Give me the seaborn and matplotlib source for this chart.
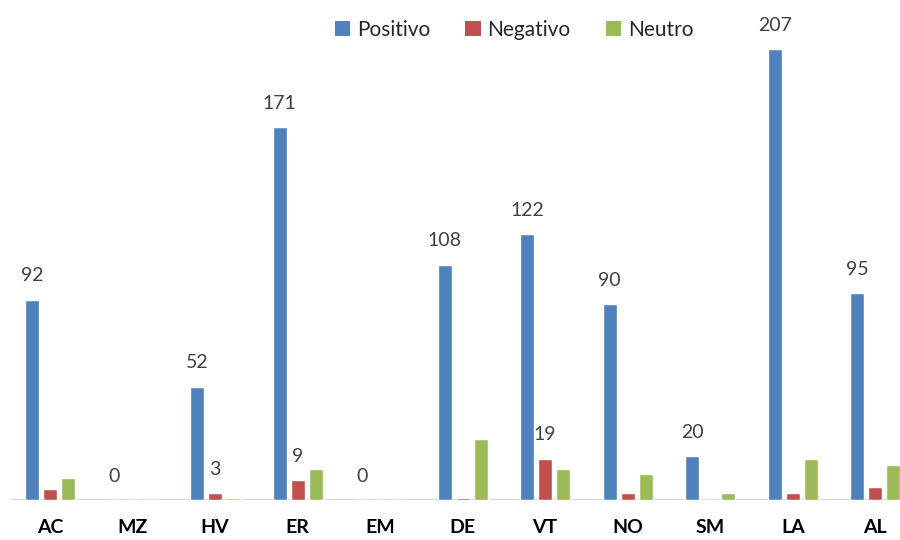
import matplotlib
matplotlib.use("Agg")
import matplotlib.pyplot as plt
import seaborn as sns
import pandas as pd
from matplotlib.patches import Patch

categorias = ["AC", "MZ", "HV", "ER", "EM", "DE", "VT", "NO", "SM", "LA", "AL"]
positivo = [92, 0, 52, 171, 0, 108, 122, 90, 20, 207, 95]
negativo = [5, 0, 3, 9, 0, 1, 19, 3, 0, 3, 6]
neutro = [10, 0, 1, 14, 0, 28, 14, 12, 3, 19, 16]
series = ["Positivo", "Negativo", "Neutro"]
cores = ["#4F81BD", "#C0504D", "#9BBB59"]
# only these negative values carry a label
rotulos_negativo = ["", "", "3", "9", "", "", "19", "", "", "", ""]

df = pd.DataFrame({
    "cat": categorias * 3,
    "valor": positivo + negativo + neutro,
    "serie": [s for s in series for _ in categorias],
})

sns.set_theme(style="white")
plt.rcParams["font.family"] = ["Lato", "DejaVu Sans"]

fig = plt.figure(figsize=(9, 5.4), dpi=100)
ax = fig.add_axes([10 / 900, 40 / 540, 890 / 900, 500 / 540])

sns.barplot(data=df, x="cat", y="valor", hue="serie", order=categorias,
            hue_order=series, palette=cores, width=0.655, gap=0.22,
            saturation=1, ax=ax, legend=False, errorbar=None)

ax.set_xlim(-0.485, 10.3)
ax.set_ylim(0, 229.5)
for s in ax.spines.values():
    s.set_visible(False)
ax.axhline(0, color="#D9D9D9", lw=1.6, zorder=0)
ax.set_yticks([])
ax.set_xlabel("")
ax.set_ylabel("")
ax.tick_params(axis="x", length=0, pad=14)
for t in ax.get_xticklabels():
    t.set_fontweight("bold")
    t.set_fontsize(14)
    t.set_color("black")

ax.bar_label(ax.containers[0], labels=[str(v) for v in positivo],
             padding=11, fontsize=14, color="#404040")
ax.bar_label(ax.containers[1], labels=rotulos_negativo,
             padding=11, fontsize=14, color="#404040")

handles = [Patch(facecolor=c, edgecolor="none") for c in cores]
fig.legend(handles, series, loc="center", bbox_to_anchor=(514 / 900, 1 - 30 / 540),
           ncol=3, frameon=False, fontsize=15, handlelength=0.75, handleheight=0.75,
           handletextpad=0.3, columnspacing=1.7)

fig.savefig("out.png", dpi=100)
